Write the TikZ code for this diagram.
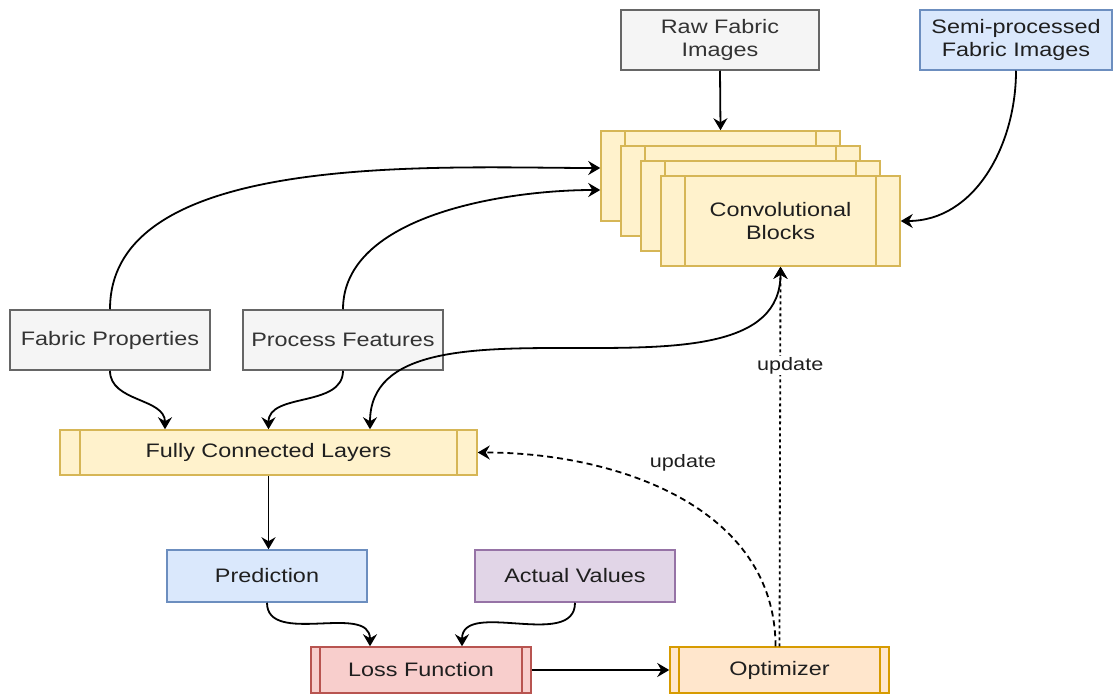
\documentclass[tikz,border=0pt]{standalone}
\usepackage{fontspec}
\setmainfont{Liberation Sans}[FakeStretch=1.2]
\usetikzlibrary{arrows.meta}

% draw.io palette
\definecolor{greyfill}{HTML}{F5F5F5}
\definecolor{greyline}{HTML}{666666}
\definecolor{greytext}{HTML}{333333}
\definecolor{bluefill}{HTML}{DAE8FC}
\definecolor{blueline}{HTML}{6C8EBF}
\definecolor{yelfill}{HTML}{FFF2CC}
\definecolor{yelline}{HTML}{D6B656}
\definecolor{purfill}{HTML}{E1D5E7}
\definecolor{purline}{HTML}{9673A6}
\definecolor{redfill}{HTML}{F8CECC}
\definecolor{redline}{HTML}{B85450}
\definecolor{orfill}{HTML}{FFE6CC}
\definecolor{orline}{HTML}{D79B00}

\tikzset{
    box/.style={draw, line width=1.5pt, minimum width=200pt, minimum height=60pt,
        inner sep=0pt, align=center, text=black!88,
        font=\fontsize{19.5}{23}\selectfont},
    greybox/.style={box, fill=greyfill, draw=greyline, text=greytext},
    bluebox/.style={box, fill=bluefill, draw=blueline},
    yelbox/.style={box, fill=yelfill, draw=yelline},
    purbox/.style={box, fill=purfill, draw=purline},
    redbox/.style={box, fill=redfill, draw=redline},
    orbox/.style={box, fill=orfill, draw=orline},
    % side bars of a process box
    bars/.style 2 args={path picture={
        \draw[#2, line width=1.5pt] ([xshift=#1]path picture bounding box.north west)
            -- ([xshift=#1]path picture bounding box.south west);
        \draw[#2, line width=1.5pt] ([xshift=-#1]path picture bounding box.north east)
            -- ([xshift=-#1]path picture bounding box.south east);
    }},
    conn/.style={line width=1.8pt, -{Stealth[length=12pt,width=14pt,inset=4pt]}},
    lbl/.style={font=\fontsize{18}{20}\selectfont, text=black!88},
}

\begin{document}
\begin{tikzpicture}[x=1pt, y=-1pt]
    \useasboundingbox (0,0) rectangle (1113,693);

    % Image inputs
    \node[greybox, minimum width=198pt] (raw) at (720,40) {Raw Fabric\\Images};
    \node[bluebox, minimum width=192pt] (semi) at (1016,40) {Semi-processed\\Fabric Images};

    % Stack of convolutional blocks
    \foreach \k in {0,1,2} {
        \node[yelbox, minimum width=239pt, minimum height=90pt, bars={24pt}{yelline}]
            (cb\k) at ({720.5+20*\k},{176+15*\k}) {};
    }
    \node[yelbox, minimum width=239pt, minimum height=90pt, bars={24pt}{yelline}]
        (cb3) at (780.5,221) {Convolutional\\Blocks};

    % Tabular inputs
    \node[greybox] (fabprop) at (110,340) {Fabric Properties};
    \node[greybox] (procfeat) at (343,340) {Process Features};

    % Dense part
    \node[yelbox, minimum width=417pt, minimum height=45pt, bars={20pt}{yelline}]
        (fcl) at (268.5,452.5) {Fully Connected Layers};

    % Output and training
    \node[bluebox, minimum height=52pt] (pred) at (267,576) {Prediction};
    \node[purbox, minimum height=52pt] (actual) at (575,576) {Actual Values};
    \node[redbox, minimum width=220pt, minimum height=46pt, bars={9pt}{redline}]
        (loss) at (421,670) {Loss Function};
    \node[orbox, minimum width=219pt, minimum height=46pt, bars={9pt}{orline}]
        (optim) at (779.5,670) {Optimizer};

    % Image inputs into the blocks
    \draw[conn] (raw.south) -- (cb0.north);
    \draw[conn] (semi.south) to[out=-90, in=0] (cb3.east);

    % Tabular inputs into the blocks
    \draw[conn] (fabprop.north) to[out=90, in=180, looseness=0.8] ([yshift=8pt]cb0.west);
    \draw[conn] (procfeat.north) to[out=90, in=180, looseness=0.85] ([yshift=-14pt]cb0.west);

    % Tabular inputs into the dense layers
    \draw[conn] (fabprop.south) to[out=-90, in=90] ([xshift=-103.5pt]fcl.north);
    \draw[conn] (procfeat.south) to[out=-90, in=90] (fcl.north);
    \draw[conn, {Stealth[length=12pt,width=14pt,inset=4pt]}-{Stealth[length=12pt,width=14pt,inset=4pt]}]
        ([xshift=101.5pt]fcl.north) to[out=90, in=-90, looseness=0.9] (cb3.south);

    % Forward pass
    \draw[conn] (fcl.south) -- (fcl.south |- pred.north);
    \draw[conn] (pred.south) to[out=-90, in=90] ([xshift=-51pt]loss.north);
    \draw[conn] (actual.south) to[out=-90, in=90] ([xshift=41pt]loss.north);
    \draw[conn] (loss.east) -- (optim.west);

    % Updates
    \draw[conn, dash pattern=on 6pt off 4pt] ([xshift=-4pt]optim.north)
        to[out=90, in=0] (fcl.east);
    \node[lbl] (upd1) at (683,463) {update};
    \draw[conn, dash pattern=on 3pt off 3pt] (optim.north) -- (cb3.south)
        node[lbl, pos=0.74, fill=white, inner sep=1pt, xshift=10pt] (upd2) {update};

\end{tikzpicture}
\end{document}
